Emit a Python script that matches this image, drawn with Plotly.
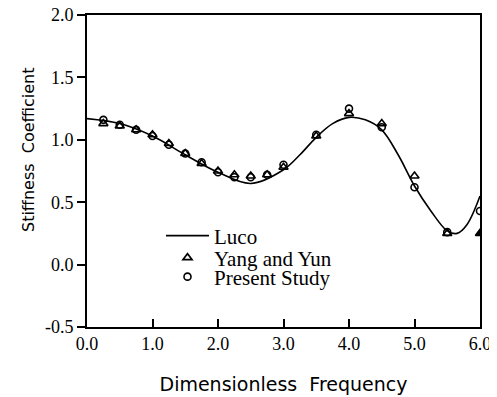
import plotly.graph_objects as go

# Luco (reference curve)
luco_x = [0.0, 0.5, 1.0, 1.5, 2.0, 2.5, 3.0, 3.25, 3.5, 3.75, 4.0, 4.25, 4.5, 4.75, 5.0, 5.25, 5.5, 5.65, 5.8, 6.0]
luco_y = [1.17, 1.13, 1.03, 0.88, 0.74, 0.65, 0.76, 0.88, 1.02, 1.13, 1.18, 1.16, 1.08, 0.88, 0.63, 0.43, 0.27, 0.25, 0.32, 0.55]

# Discrete frequencies
freq = [0.25, 0.5, 0.75, 1.0, 1.25, 1.5, 1.75, 2.0, 2.25, 2.5, 2.75, 3.0, 3.5, 4.0, 4.5, 5.0, 5.5, 6.0]
yang_yun = [1.13, 1.11, 1.08, 1.04, 0.97, 0.89, 0.81, 0.75, 0.72, 0.71, 0.72, 0.78, 1.03, 1.21, 1.13, 0.71, 0.25, 0.25]
present = [1.16, 1.12, 1.08, 1.03, 0.96, 0.89, 0.82, 0.74, 0.70, 0.70, 0.72, 0.80, 1.04, 1.25, 1.10, 0.62, 0.26, 0.43]

x_ticks = [0, 1, 2, 3, 4, 5, 6]
x_ticklabels = ["0.0", "1.0", "2.0", "3.0", "4.0", "5.0", "6.0"]
y_ticks = [-0.5, 0.0, 0.5, 1.0, 1.5, 2.0]
y_ticklabels = ["-0.5", "0.0", "0.5", "1.0", "1.5", "2.0"]

x_title = "Dimensionless\u00a0\u00a0Frequency"
y_title = "Stiffness\u00a0\u00a0Coefficient"

serif = "Liberation Serif"
sans = "DejaVu Sans"

fig = go.Figure()
fig.add_trace(go.Scatter(
    x=luco_x, y=luco_y, mode="lines", name="Luco", legend="legend",
    line=dict(color="black", width=1.6, shape="spline", smoothing=1.0),
))
fig.add_trace(go.Scatter(
    x=freq, y=yang_yun, mode="markers", name="Yang and Yun", legend="legend2",
    marker=dict(symbol=["triangle-up-open"] * (len(freq) - 1) + ["triangle-up"],
                size=8, color="black", line=dict(width=1.6, color="black")),
))
fig.add_trace(go.Scatter(
    x=freq, y=present, mode="markers", name="Present Study", legend="legend3",
    marker=dict(symbol="circle-open", size=7, color="black", line=dict(width=1.6, color="black")),
))

# page body has an 8px margin, so the figure is sized to fill the remaining window
W, H = 489, 389
L, R, T, B = 79, 17, 7, 70
leg_common = dict(
    xref="container", yref="container", xanchor="left", yanchor="middle",
    bgcolor="rgba(0,0,0,0)", borderwidth=0,
    font=dict(family=serif, size=21, color="black"),
    itemwidth=43,
)

fig.update_layout(
    width=W, height=H,
    margin=dict(l=L, r=R, t=T, b=B, autoexpand=False),
    paper_bgcolor="white", plot_bgcolor="white",
    showlegend=True,
    legend=dict(x=153 / W, y=1 - 228 / H, **leg_common),
    legend2=dict(x=153 / W, y=1 - 250 / H, **leg_common),
    legend3=dict(x=153 / W, y=1 - 269 / H, **leg_common),
    xaxis=dict(
        range=[0, 6], tickvals=x_ticks, ticktext=x_ticklabels, automargin=True,
        ticks="inside", ticklen=8, tickwidth=1.5, tickcolor="black",
        showline=True, linecolor="black", linewidth=1.6, mirror=True,
        showgrid=False, zeroline=False, ticklabeloverflow="allow",
        tickfont=dict(family=serif, size=18, color="black"),
        title=dict(text=x_title, font=dict(family=sans, size=19, color="black"), standoff=24),
    ),
    yaxis=dict(
        range=[-0.5, 2.0], tickvals=y_ticks, ticktext=y_ticklabels, automargin=True,
        ticks="outside", ticklen=8, tickwidth=1.5, tickcolor="black",
        showline=True, linecolor="black", linewidth=1.6, mirror=True,
        showgrid=False, zeroline=False, ticklabeloverflow="allow",
        tickfont=dict(family=serif, size=18, color="black"),
    ),
    annotations=[dict(
        text=y_title, textangle=-90, showarrow=False,
        xref="paper", yref="paper",
        x=(20 - L) / (W - L - R), y=(H - B - 142) / (H - B - T),
        xanchor="center", yanchor="middle",
        font=dict(family=sans, size=16, color="black"),
    )],
)

fig.write_html("out.html")
